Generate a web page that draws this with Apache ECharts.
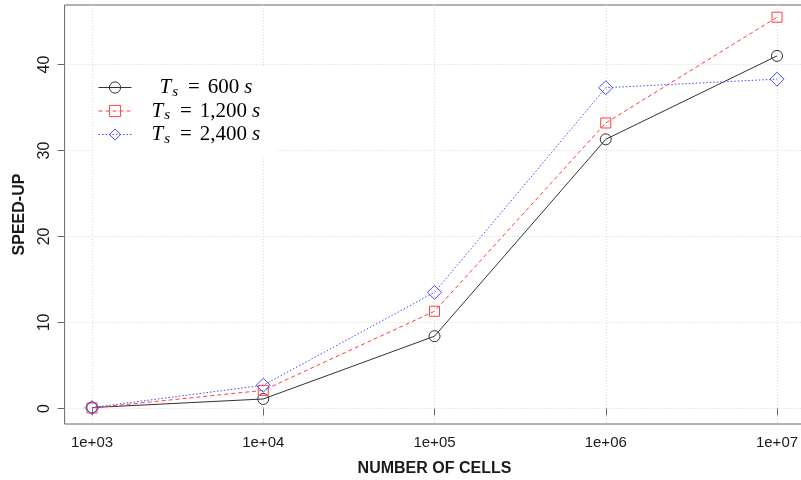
<!DOCTYPE html>
<html>
<head>
<meta charset="utf-8">
<title>Speed-up vs number of cells</title>
<script src="https://cdn.jsdelivr.net/npm/echarts@6/dist/echarts.min.js"></script>
<style>
  html, body { margin: 0; padding: 0; background: #fff; }
  #chart { width: 801px; height: 480px; }
</style>
</head>
<body>
<div id="chart"></div>
<script>
// Problem sizes (number of cells) and measured speed-up per sampling period Ts
const cells = [1e3, 1e4, 1e5, 1e6, 1e7];
const cellLabels = ['1e+03', '1e+04', '1e+05', '1e+06', '1e+07'];
const periods = ['600', '1,200', '2,400'];
const speedup600 = [0.1, 1.1, 8.4, 31.3, 41.0];
const speedup1200 = [0.05, 2.1, 11.3, 33.2, 45.5];
const speedup2400 = [0.1, 2.7, 13.5, 37.3, 38.3];
const yTicks = [0, 10, 20, 30, 40];

// x is plotted as log10(cells) on a linear value axis
const logCells = cells.map(c => Math.log10(c));
const pairs = vals => logCells.map((x, i) => [x, vals[i]]);

const seriesDefs = [
  { period: periods[0], values: speedup600, color: '#333333', dash: 'solid', symbol: 'circle', size: 11 },
  { period: periods[1], values: speedup1200, color: '#ff4040', dash: [4, 3], symbol: 'rect', size: 10 },
  { period: periods[2], values: speedup2400, color: '#4a4aff', dash: [1.5, 2], symbol: 'diamond', size: 14 }
];
const nameOf = p => 'Ts = ' + p + ' s';

const chart = echarts.init(document.getElementById('chart'), null, { renderer: 'canvas' });

const gridColor = '#d9d9d9';
const frameColor = '#666666';
const sansFont = '"Liberation Sans", Arial, sans-serif';
const serifFont = '"Liberation Serif", "DejaVu Serif", serif';
const rowH = 24;

chart.setOption({
  animation: false,
  backgroundColor: '#ffffff',
  grid: {
    left: 64.6, top: 5, width: 739.8, height: 419,
    outerBoundsMode: 'none',
    containLabel: false,
    show: true, borderColor: frameColor, borderWidth: 1, backgroundColor: 'transparent'
  },
  xAxis: {
    type: 'value',
    min: 2.84, max: 7.16,
    axisLine: { show: false },
    axisTick: { show: true, length: 7, lineStyle: { color: frameColor }, customValues: logCells },
    axisLabel: {
      customValues: logCells,
      margin: 11,
      color: '#1a1a1a', fontFamily: sansFont, fontSize: 15,
      formatter: v => {
        const i = logCells.findIndex(x => Math.abs(x - v) < 1e-6);
        return i >= 0 ? cellLabels[i] : '';
      }
    },
    splitLine: { show: true, lineStyle: { color: gridColor, type: [1, 2], width: 1 } },
    name: 'NUMBER OF CELLS',
    nameLocation: 'middle',
    nameGap: 37,
    nameTextStyle: { fontFamily: sansFont, fontWeight: 'bold', fontSize: 16, color: '#1a1a1a' }
  },
  yAxis: {
    type: 'value',
    min: -1.81, max: 46.92,
    axisLine: { show: false },
    axisTick: { show: true, length: 7, lineStyle: { color: frameColor }, customValues: yTicks },
    axisLabel: {
      customValues: yTicks,
      rotate: 90,
      margin: 12,
      color: '#1a1a1a', fontFamily: sansFont, fontSize: 16
    },
    splitLine: { show: true, lineStyle: { color: gridColor, type: [1, 2], width: 1 } },
    name: 'SPEED-UP',
    nameLocation: 'middle',
    nameGap: 37,
    nameTextStyle: { fontFamily: sansFont, fontWeight: 'bold', fontSize: 16, color: '#1a1a1a' }
  },
  legend: {
    orient: 'vertical',
    left: 93, top: 67,
    padding: [10, 15, 10, 5],
    backgroundColor: '#ffffff',
    itemWidth: 33, itemHeight: 14,
    itemGap: 1,
    lineStyle: { width: 1 },
    itemStyle: { borderWidth: 1 },
    data: seriesDefs.map(d => nameOf(d.period)),
    formatter: name => {
      const p = periods.find(q => nameOf(q) === name);
      const lead = p.length < 5 ? '{leadWide| }' : '{lead| }';
      return lead + '{T|T}{sub|s}{eq|=}{num|' + p + '}{s|s}';
    },
    textStyle: {
      rich: {
        lead: { width: 15, lineHeight: rowH },
        leadWide: { width: 23, lineHeight: rowH },
        T: { fontFamily: serifFont, fontStyle: 'italic', fontSize: 21, color: '#000', lineHeight: rowH, verticalAlign: 'middle' },
        sub: { fontFamily: serifFont, fontStyle: 'italic', fontSize: 15, color: '#000', lineHeight: 12, verticalAlign: 'bottom', padding: [0, 0, 0, 1] },
        eq: { fontFamily: serifFont, fontSize: 21, color: '#000', lineHeight: rowH, verticalAlign: 'middle', padding: [0, 8, 0, 10] },
        num: { fontFamily: serifFont, fontSize: 21, color: '#000', lineHeight: rowH, verticalAlign: 'middle', padding: [0, 5, 0, 0] },
        s: { fontFamily: serifFont, fontStyle: 'italic', fontSize: 21, color: '#000', lineHeight: rowH, verticalAlign: 'middle' }
      }
    }
  },
  series: seriesDefs.map(d => ({
    type: 'line',
    name: nameOf(d.period),
    data: pairs(d.values),
    symbol: d.symbol,
    symbolSize: d.size,
    showAllSymbol: true,
    lineStyle: { color: d.color, width: 1, type: d.dash },
    itemStyle: { color: 'transparent', borderColor: d.color, borderWidth: 1 },
    emphasis: { disabled: true }
  }))
});
</script>
</body>
</html>
